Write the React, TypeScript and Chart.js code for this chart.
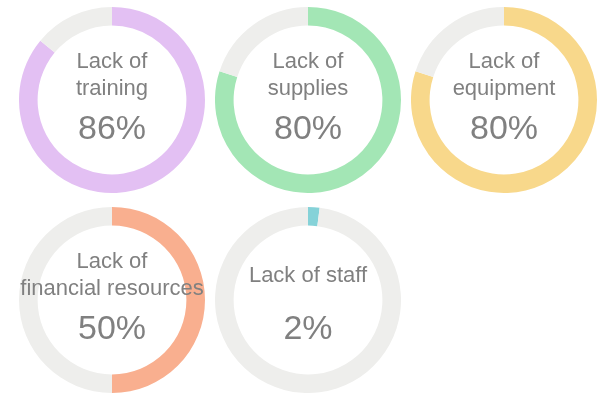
import React, { useEffect, useRef } from "react";
import { Chart, registerables } from "chart.js";

Chart.register(...registerables);

const labels: string[][] = [
  ["Lack of", "training"],
  ["Lack of", "supplies"],
  ["Lack of", "equipment"],
  ["Lack of", "financial resources"],
  ["Lack of staff"],
];
const percents: number[] = [86, 80, 80, 50, 2];
const colors: string[] = ["#E3C0F3", "#A3E6B5", "#F8D88B", "#F9AF8F", "#85D2D8"];
const restColor = "#EEEEEC";
const centers: [number, number][] = [
  [112, 100],
  [308, 100],
  [504, 100],
  [112, 300],
  [308, 300],
];
const SIZE = 186;

function Donut({ value, color }: { value: number; color: string }) {
  const ref = useRef<HTMLCanvasElement>(null);
  useEffect(() => {
    if (!ref.current) return;
    const chart = new Chart(ref.current, {
      type: "doughnut",
      data: {
        labels: ["value", "rest"],
        datasets: [
          {
            data: [value, 100 - value],
            backgroundColor: [color, restColor],
            borderWidth: 0,
            hoverOffset: 0,
          },
        ],
      },
      options: {
        responsive: false,
        animation: false,
        cutout: "80%",
        events: [],
        layout: { padding: 0 },
        plugins: { legend: { display: false }, tooltip: { enabled: false } },
      },
    });
    return () => chart.destroy();
  }, [value, color]);
  return <canvas ref={ref} width={SIZE} height={SIZE} style={{ width: SIZE, height: SIZE, display: "block" }} />;
}

export default function App() {
  return (
    <div style={{ position: "absolute", left: 0, top: 0, width: 601, height: 396, background: "#fff", fontFamily: "'Liberation Sans', Arial, sans-serif", color: "#808080" }}>
      {percents.map((p, i) => {
        const [cx, cy] = centers[i];
        return (
          <React.Fragment key={i}>
            <div style={{ position: "absolute", left: cx - SIZE / 2, top: cy - SIZE / 2 }}>
              <Donut value={p} color={colors[i]} />
            </div>
            <div
              style={{
                position: "absolute",
                left: cx - 110,
                width: 220,
                top: cy - 25.7,
                transform: "translateY(-50%)",
                textAlign: "center",
                fontSize: 22,
                lineHeight: "27px",
                whiteSpace: "nowrap",
              }}
            >
              {labels[i].map((l, j) => (
                <div key={j}>{l}</div>
              ))}
            </div>
            <div
              style={{
                position: "absolute",
                left: cx - 110,
                width: 220,
                top: cy + 9.5,
                textAlign: "center",
                fontSize: 34,
                lineHeight: "34px",
                whiteSpace: "nowrap",
              }}
            >
              {p}%
            </div>
          </React.Fragment>
        );
      })}
    </div>
  );
}
